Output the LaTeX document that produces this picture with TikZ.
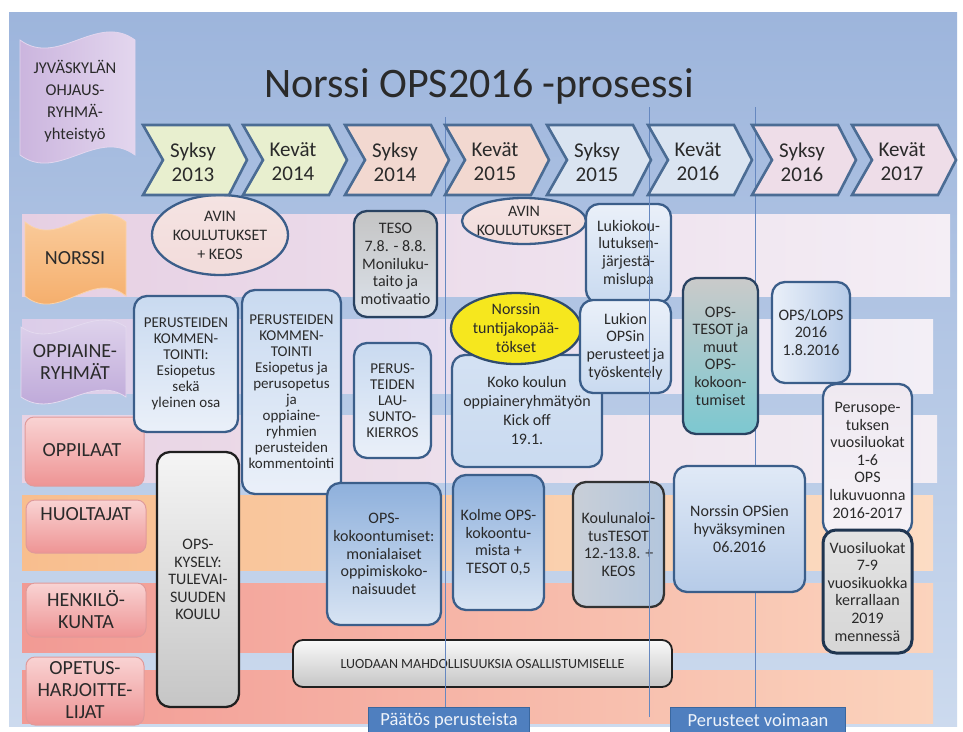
\documentclass[tikz,border=0pt]{standalone}
\usepackage{fontspec}
\setmainfont{Carlito}
\usetikzlibrary{shapes.geometric}
\definecolor{bgtop}{HTML}{9DB5DC}
\definecolor{bgbot}{HTML}{CCDAEE}
\definecolor{txt}{HTML}{2A2A2A}
\definecolor{bdr}{HTML}{3B5E8A}
\definecolor{vline}{HTML}{6688C0}
\definecolor{chA}{HTML}{E8EFCF}
\definecolor{chB}{HTML}{F2D8D0}
\definecolor{chC}{HTML}{DAE4F1}
\definecolor{chD}{HTML}{EEDDE8}
\definecolor{chbd}{HTML}{4B6C94}
\definecolor{bandLa}{HTML}{E6CFE3}
\definecolor{bandLb}{HTML}{F4EEF5}
\definecolor{bandPa}{HTML}{DCCDE9}
\definecolor{bandPb}{HTML}{F3EFF6}
\definecolor{bandQa}{HTML}{E8D2E3}
\definecolor{bandQb}{HTML}{F3EEF4}
\definecolor{bandOa}{HTML}{F8BE8E}
\definecolor{bandOb}{HTML}{FCDCC4}
\definecolor{bandRa}{HTML}{F29A94}
\definecolor{bandRb}{HTML}{FBD3BC}
\definecolor{labtop}{HTML}{F9D3D3}
\definecolor{labbot}{HTML}{EE9494}
\definecolor{labbd}{HTML}{E09A9A}
\definecolor{bluetop}{HTML}{C9DAF0}
\definecolor{bluebot}{HTML}{EAF0F9}
\definecolor{bluedark}{HTML}{B6CBE8}
\definecolor{deeptop}{HTML}{8EB0DC}
\definecolor{deepbot}{HTML}{D8E4F3}
\definecolor{graytop}{HTML}{C4C4C4}
\definecolor{graybot}{HTML}{DCE2EA}
\definecolor{pinkfill}{HTML}{F2DCDB}
\definecolor{yell}{HTML}{F6E71E}
\definecolor{teal}{HTML}{7CC8D0}
\definecolor{lavwhite}{HTML}{EFE9F1}
\definecolor{navy}{HTML}{1F3550}
\definecolor{pbox}{HTML}{4F7FBF}
\definecolor{pboxbd}{HTML}{3A679F}
\definecolor{ptext}{HTML}{EEF3FA}
\definecolor{jyl}{HTML}{CBB5DE}
\definecolor{jyr}{HTML}{E3D6EE}
\definecolor{optop}{HTML}{E4DAEF}
\definecolor{opbot}{HTML}{B9A2D6}
\definecolor{ortop}{HTML}{FBD3A8}
\definecolor{orbot}{HTML}{F4A862}
\definecolor{qgray}{HTML}{C9CFD8}
\definecolor{qblue}{HTML}{B3C6DD}
\begin{document}
\begin{tikzpicture}[x=1pt,y=-1pt,
  box/.style={draw=bdr, line width=2.3pt, rounded corners=13pt, align=center, inner sep=0pt, text=txt},
  fa/.style={font=\fontsize{15}{16}\selectfont},
  fb/.style={font=\fontsize{16}{17.6}\selectfont},
  fc/.style={font=\fontsize{16}{19}\selectfont},
  lab/.style={draw=labbd, line width=1pt, rounded corners=9pt, top color=labtop, bottom color=labbot},
  labtext/.style={align=center, inner sep=0pt, text=txt, font=\fontsize{20}{22}\selectfont},
  chevtext/.style={align=center, inner sep=0pt, text=txt, font=\fontsize{21}{24}\selectfont},
  elltext/.style={align=center, inner sep=0pt, text=txt, font=\fontsize{16}{19}\selectfont},
  pbox/.style={fill=pbox, draw=pboxbd, line width=1pt, text=ptext, inner sep=0pt, font=\fontsize{18.5}{20}\selectfont},
  vl/.style={draw=vline, line width=1pt}
]
\useasboundingbox (0,0) rectangle (963,731);
% background
\fill[white] (0,0) rectangle (963,731);
\shade[top color=bgtop, bottom color=bgbot] (9,12) rectangle (957,726);
% bands
\shade[left color=bandLa, right color=bandLb] (22,214) rectangle (950,296);
\shade[left color=bandPa, right color=bandPb] (22,319) rectangle (933,393);
\shade[left color=bandQa, right color=bandQb] (22,415) rectangle (937,482);
\shade[left color=bandOa, right color=bandOb] (22,495) rectangle (933,570);
\shade[left color=bandRa, right color=bandRb] (22,583) rectangle (933,652);
\shade[left color=bandRa, right color=bandRb] (22,670) rectangle (933,723);
% title
\node[anchor=base, inner sep=0pt, text=txt, font=\fontsize{42}{46}\selectfont] (title) at (479,97) {Norssi OPS2016 -prosessi};
% left wave labels
\path[draw=jyr, line width=0.8pt, left color=jyl, right color=jyr]
  (20,40) .. controls (58,68) and (97,12) .. (135,40) -- (135,155) .. controls (97,127) and (58,183) .. (20,155) -- cycle;
\node[align=center, inner sep=0pt, text=txt, font=\fontsize{16.5}{22}\selectfont] (jyv) at (75,101) {JYVÄSKYLÄN\\OHJAUS-\\RYHMÄ-\\yhteistyö};
\path[draw=ortop, line width=0.8pt, top color=ortop, bottom color=orbot]
  (25,222) .. controls (59,250) and (92,194) .. (126,222) -- (126,296) .. controls (92,268) and (59,324) .. (25,296) -- cycle;
\node[labtext] (nor) at (75,258) {NORSSI};
\path[draw=optop, line width=0.8pt, top color=optop, bottom color=opbot]
  (21,327) .. controls (56,351) and (91,303) .. (126,327) -- (126,397) .. controls (91,373) and (56,421) .. (21,397) -- cycle;
\node[labtext] (opp) at (75,362) {OPPIAINE-\\RYHMÄT};
% left rect labels
\node[lab, minimum width=119pt, minimum height=69pt] (oplbox) at (84.5,451.5) {};
\node[labtext] (opl) at (82,450) {OPPILAAT};
\node[lab, minimum width=120pt, minimum height=53pt] (huobox) at (86,526.5) {};
\node[labtext] (huo) at (86,514) {HUOLTAJAT};
\node[lab, minimum width=120pt, minimum height=54pt] (henbox) at (86,610) {};
\node[labtext] (hen) at (86,610) {HENKILÖ-\\KUNTA};
\node[lab, minimum width=118pt, minimum height=68pt] (opebox) at (85,691) {};
\node[labtext] (ope) at (85,690) {OPETUS-\\HARJOITTE-\\LIJAT};
% vertical line under boxes
\draw[vl] (755,107) coordinate (v3a) -- (755,707) coordinate (v3b);
% ellipses
\node[ellipse, draw=bdr, line width=2.3pt, top color=pinkfill!80!white, bottom color=pinkfill, minimum width=136pt, minimum height=80pt, inner sep=0pt] (e1) at (220,235) {};
\node[elltext] (e1t) at (e1.center) {AVIN\\KOULUTUKSET\\+ KEOS};
\node[ellipse, draw=bdr, line width=2.3pt, top color=pinkfill!80!white, bottom color=pinkfill, minimum width=124pt, minimum height=46pt, inner sep=0pt] (e2) at (524,221) {};
\node[elltext] (e2t) at (e2.center) {AVIN\\KOULUTUKSET};
% boxes
\node[box, fa, top color=bluetop, bottom color=bluebot, minimum width=104pt, minimum height=136pt] (A) at (186,364) {PERUSTEIDEN\\KOMMEN-\\TOINTI:\\Esiopetus\\sekä\\yleinen osa};
\node[box, fa, top color=bluetop, bottom color=bluebot, minimum width=99pt, minimum height=204pt] (B) at (291.5,392) {PERUSTEIDEN\\KOMMEN-\\TOINTI\\Esiopetus ja\\perusopetus\\ja\\oppiaine-\\ryhmien\\perusteiden\\kommentointi};
\node[box, fb, draw=bdr!70!black, top color=graytop, bottom color=graybot, minimum width=83pt, minimum height=106pt] (C) at (395.5,264) {TESO\\7.8. - 8.8.\\Moniluku-\\taito ja\\motivaatio};
\node[box, fa, top color=bluetop, bottom color=bluebot, minimum width=77pt, minimum height=115pt] (D) at (392.5,400.5) {PERUS-\\TEIDEN\\LAU-\\SUNTO-\\KIERROS};
\node[box, fc, top color=bluetop!80!white, bottom color=bluetop, minimum width=150pt, minimum height=112pt] (I) at (527,411) {Koko koulun\\oppiaineryhmätyön\\Kick off\\19.1.};
\node[ellipse, draw=bdr!80!black, line width=2.3pt, fill=yell, minimum width=130pt, minimum height=71pt, inner sep=0pt] (G) at (516,328.5) {};
\node[elltext] (Gt) at (G.center) {Norssin\\tuntijakopää-\\tökset};
\node[box, fb, top color=bluebot, bottom color=bluetop, minimum width=85pt, minimum height=99pt] (F) at (628.5,253.5) {Lukiokou-\\lutuksen-\\järjestä-\\mislupa};
\node[box, fb, top color=bluebot, bottom color=bluetop, minimum width=91pt, minimum height=93pt] (H) at (625.5,346.5) {Lukion\\OPSin\\perusteet ja\\työskentely};
\node[box, fb, draw=bdr!70!black, top color=graytop!90!white, bottom color=teal, minimum width=75pt, minimum height=156pt] (J) at (720.5,356) {OPS-\\TESOT ja\\muut\\OPS-\\kokoon-\\tumiset};
\node[box, fb, left color=bluebot, right color=bluedark, minimum width=78pt, minimum height=101pt] (K) at (811,332.5) {OPS/LOPS\\2016\\1.8.2016};
\node[box, fb, top color=lavwhite, bottom color=lavwhite!60!white, minimum width=89pt, minimum height=151pt] (L) at (867.5,459.5) {\\[-6pt]Perusope-\\tuksen\\vuosiluokat\\1-6\\OPS\\lukuvuonna\\2016-2017};
\node[box, fb, draw=navy, line width=3pt, top color=gray!22!white, bottom color=gray!32!white, minimum width=89pt, minimum height=123pt] (M) at (867.5,591.5) {Vuosiluokat\\7-9\\vuosikuokka\\kerrallaan\\2019\\mennessä};
\node[box, fb, draw=gray!25!black, top color=gray!8!white, bottom color=gray!45!white, minimum width=82pt, minimum height=255pt] (N) at (198,579.5) {OPS-\\KYSELY:\\TULEVAI-\\SUUDEN\\KOULU};
\node[box, fb, top color=deeptop, bottom color=deepbot, minimum width=114pt, minimum height=142pt] (O) at (384,554) {OPS-\\kokoontumiset:\\monialaiset\\oppimiskoko-\\naisuudet};
\node[box, fb, top color=deeptop, bottom color=deepbot, minimum width=91pt, minimum height=135pt] (P) at (498.5,542.5) {Kolme OPS-\\kokoontu-\\mista +\\TESOT 0,5};
\node[box, fb, draw=gray!40!black, left color=qgray, right color=qblue, minimum width=91pt, minimum height=125pt] (Q) at (618.5,544.5) {Koulunaloi-\\tusTESOT\\12.-13.8. +\\KEOS};
\node[box, fb, top color=bluebot!70!bluetop, bottom color=bluedark, minimum width=131pt, minimum height=126pt] (R) at (739.5,529) {Norssin OPSien\\hyväksyminen\\06.2016};
\node[box, draw=gray!25!black, rounded corners=10pt, line width=1.8pt, top color=gray!5!white, bottom color=gray!45!white, font=\fontsize{14}{16}\selectfont, minimum width=379pt, minimum height=47pt] (S) at (482.5,663.5) {LUODAAN MAHDOLLISUUKSIA OSALLISTUMISELLE};
% vertical lines over boxes
\draw[vl] (445,117) coordinate (v1a) -- (445,712) coordinate (v1b);
\draw[vl] (649,107) coordinate (v2a) -- (649,717) coordinate (v2b);
% chevrons
\foreach \x/\c/\t/\yr [count=\i] in {143/chA/Syksy/2013, 243/chA/Kevät/2014, 345/chB/Syksy/2014, 445/chB/Kevät/2015, 547/chC/Syksy/2015, 648/chC/Kevät/2016, 752/chD/Syksy/2016, 852/chD/Kevät/2017}{
  \path[draw=chbd, line width=2.6pt, line join=miter, fill=\c] (\x,125) -- ({\x+86},125) -- ({\x+104},160) -- ({\x+86},195) -- (\x,195) -- ({\x+20},160) -- cycle;
  \node[chevtext] (cv\i) at ({\x+50},162) {\t\\\yr};
}
% bottom labels
\node[pbox, anchor=north west, minimum width=161pt, minimum height=26pt] (p1) at (368,707) {Päätös perusteista};
\node[pbox, anchor=north west, minimum width=175pt, minimum height=26pt] (p2) at (670,707) {Perusteet voimaan};
\end{tikzpicture}
\end{document}
